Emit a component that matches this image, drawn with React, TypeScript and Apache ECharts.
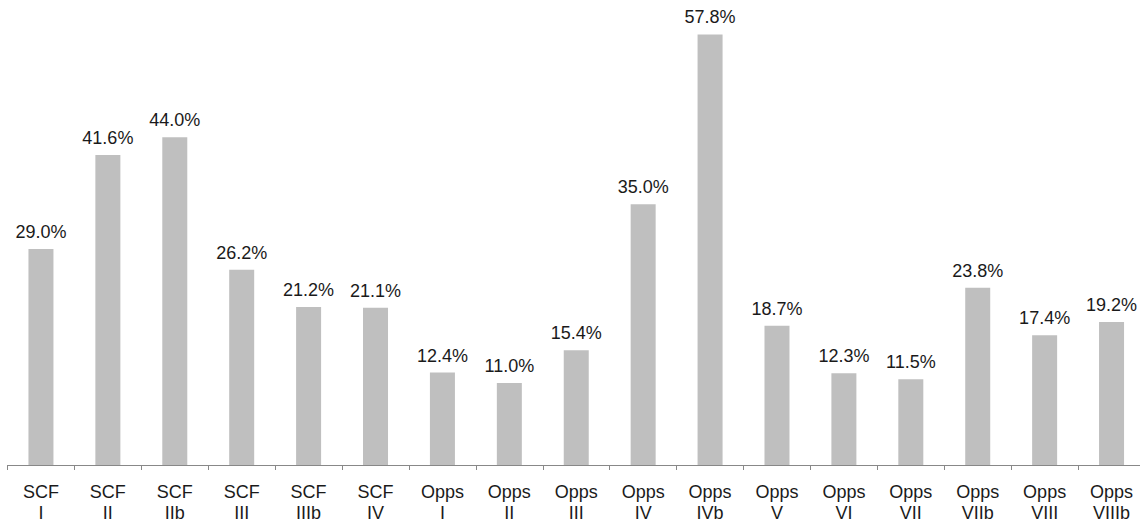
import React, { useEffect, useRef } from "react";
import * as echarts from "echarts";

const categories = [
  "SCF\nI", "SCF\nII", "SCF\nIIb", "SCF\nIII", "SCF\nIIIb", "SCF\nIV",
  "Opps\nI", "Opps\nII", "Opps\nIII", "Opps\nIV", "Opps\nIVb", "Opps\nV",
  "Opps\nVI", "Opps\nVII", "Opps\nVIIb", "Opps\nVIII", "Opps\nVIIIb",
];
const values = [29.0, 41.6, 44.0, 26.2, 21.2, 21.1, 12.4, 11.0, 15.4, 35.0, 57.8, 18.7, 12.3, 11.5, 23.8, 17.4, 19.2];

export default function App() {
  const ref = useRef<HTMLDivElement>(null);
  useEffect(() => {
    if (!ref.current) return;
    const chart = echarts.init(ref.current, undefined, { renderer: "svg" });
    const font = "'Liberation Sans', Arial, sans-serif";
    chart.setOption({
      animation: false,
      backgroundColor: "#ffffff",
      grid: { left: 7.5, right: 5, top: 18, bottom: 59 },
      xAxis: {
        type: "category",
        data: categories,
        boundaryGap: true,
        axisLine: { lineStyle: { color: "#888888", width: 1 } },
        axisTick: { show: true, length: 5, lineStyle: { color: "#888888" } },
        axisLabel: {
          interval: 0,
          margin: 16,
          color: "#1a1a1a",
          fontSize: 18,
          lineHeight: 21,
          fontFamily: font,
        },
      },
      yAxis: {
        type: "value",
        min: 0,
        max: 60,
        show: false,
        splitLine: { show: false },
      },
      series: [
        {
          type: "bar",
          data: values,
          barWidth: 25,
          itemStyle: { color: "#bfbfbf" },
          label: {
            show: true,
            position: "top",
            distance: 8,
            fontSize: 18,
            color: "#1a1a1a",
            fontFamily: font,
            formatter: (p: any) => p.value.toFixed(1) + "%",
          },
        },
      ],
    });
    return () => chart.dispose();
  }, []);
  return (
    <div style={{ position: "fixed", left: 0, top: 0, width: 1140, height: 524, overflow: "hidden", background: "#fff" }}>
      <div ref={ref} style={{ width: 1150, height: 524 }} />
    </div>
  );
}
